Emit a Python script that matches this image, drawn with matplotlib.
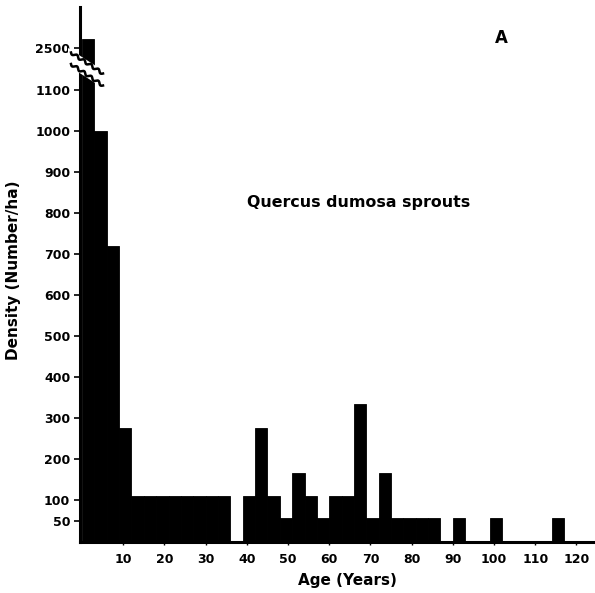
import numpy as np
import matplotlib
matplotlib.use("Agg")
import matplotlib.pyplot as plt
from matplotlib.lines import Line2D
from matplotlib.patches import Polygon
from matplotlib.transforms import Affine2D

# ---------------- data ----------------
bin_start = [0, 3, 6, 9, 12, 15, 18, 21, 24, 27, 30, 33, 36, 39, 42, 45, 48, 51,
             54, 57, 60, 63, 66, 69, 72, 75, 78, 81, 84, 87, 90, 93, 96, 99,
             102, 105, 108, 111, 114, 117, 120]
density = [2800, 1000, 720, 275, 110, 110, 110, 110, 110, 110, 110, 110, 0, 110,
           275, 110, 55, 165, 110, 55, 110, 110, 335, 55, 165, 55, 55, 55, 55, 0,
           55, 0, 0, 55, 0, 0, 0, 0, 55, 0, 0]
bin_width = 3
y_ticks = [50, 100, 200, 300, 400, 500, 600, 700, 800, 900, 1000, 1100, 2500]
y_tick_labels = ["50", "100", "200", "300", "400", "500", "600", "700", "800",
                 "900", "1000", "1100", "2500"]
x_ticks = [10, 20, 30, 40, 50, 60, 70, 80, 90, 100, 110, 120]
x_tick_labels = [str(v) for v in x_ticks]

BREAK = 1100.0
COMPRESS = 0.0729


def fwd(v):
    v = np.asarray(v, dtype=float)
    return np.where(v <= BREAK, v, BREAK + (v - BREAK) * COMPRESS)


def inv(u):
    u = np.asarray(u, dtype=float)
    return np.where(u <= BREAK, u, BREAK + (u - BREAK) / COMPRESS)


W, H = 595, 593
fig = plt.figure(figsize=(W / 100, H / 100), dpi=100)
fig.patch.set_facecolor("white")
ax = fig.add_axes([80 / W, 1 - 542 / H, 515 / W, 535 / H])

ax.bar(bin_start, density, width=bin_width, align="edge", color="black",
       edgecolor="black", linewidth=0.6)

ax.set_yscale("function", functions=(fwd, inv))
ax.set_ylim(-2.4, float(inv(1302)))
ax.set_xlim(-0.49, 124.5)

ax.set_yticks(y_ticks)
ax.set_yticklabels(y_tick_labels)
ax.set_xticks(x_ticks)
ax.set_xticklabels(x_tick_labels)
ax.minorticks_off()

for lab in ax.get_xticklabels() + ax.get_yticklabels():
    lab.set_fontweight("bold")
    lab.set_fontsize(9)
    lab.set_family("DejaVu Sans")

ax.tick_params(axis="y", length=4, width=1.2, pad=3, direction="out")
ax.tick_params(axis="x", length=2, width=1.0, pad=6, direction="out")

for s in ["top", "right"]:
    ax.spines[s].set_visible(False)
for s in ["left", "bottom"]:
    ax.spines[s].set_linewidth(2.2)

# ---------------- axis break (pixel coords from top-left) ----------------
px = Affine2D().scale(1 / W, -1 / H).translate(0, 1) + fig.transFigure
band = Polygon([(68, 48), (106, 72.5), (106, 90), (68, 65.5)], closed=True,
               facecolor="white", edgecolor="none", transform=px, zorder=10)
fig.add_artist(band)


def wavy(p0, p1, amp=1.4, waves=4.5, n=200):
    t = np.linspace(0, 1, n)
    p0 = np.array(p0, float)
    p1 = np.array(p1, float)
    d = p1 - p0
    L = np.hypot(*d)
    nrm = np.array([-d[1], d[0]]) / L
    pts = p0[None, :] + t[:, None] * d[None, :] + \
        (amp * np.sin(2 * np.pi * waves * t))[:, None] * nrm[None, :]
    return pts[:, 0], pts[:, 1]


for p0, p1 in [((71, 52.5), (103, 73.5)), ((71, 64), (103, 85.5))]:
    xs, ys = wavy(p0, p1)
    fig.add_artist(Line2D(xs, ys, color="black", linewidth=1.8,
                          transform=px, zorder=11))

# ---------------- texts ----------------
fig.text(359 / W, 1 - 202 / H, "Quercus dumosa sprouts", ha="center",
         va="center", fontsize=11.4, fontweight="bold", family="DejaVu Sans")
fig.text(501 / W, 1 - 38 / H, "A", ha="center", va="center", fontsize=12,
         fontweight="bold", family="DejaVu Sans")
fig.text(347 / W, 1 - 580 / H, "Age (Years)", ha="center", va="center",
         fontsize=11, fontweight="bold", family="DejaVu Sans")
fig.text(14 / W, 1 - 270 / H, "Density (Number/ha)", ha="center", va="center",
         rotation=90, fontsize=11, fontweight="bold", family="DejaVu Sans")

fig.savefig("out.png", dpi=100, facecolor="white")
